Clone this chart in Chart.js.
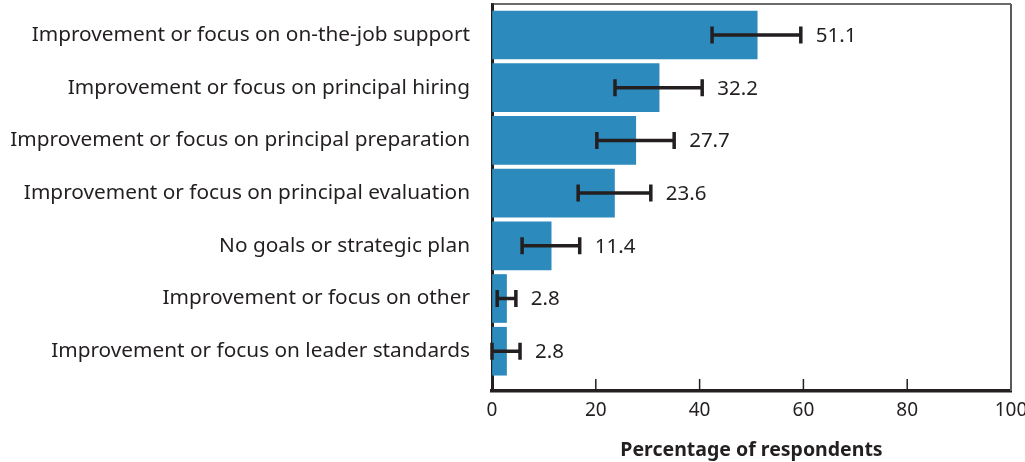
<!DOCTYPE html>
<html>
<head>
<meta charset="utf-8">
<script src="https://cdn.jsdelivr.net/npm/chart.js@4/dist/chart.umd.min.js"></script>
<style>
  html, body { margin: 0; padding: 0; background: #fff; }
  #wrap { width: 1025px; height: 462px; }
</style>
</head>
<body>
<div id="wrap"><canvas id="c" width="1025" height="462"></canvas></div>
<script>
const CATEGORIES = [
  'Improvement or focus on on-the-job support',
  'Improvement or focus on principal hiring',
  'Improvement or focus on principal preparation',
  'Improvement or focus on principal evaluation',
  'No goals or strategic plan',
  'Improvement or focus on other',
  'Improvement or focus on leader standards'
]
const VALUES   = [51.1, 32.2, 27.7, 23.6, 11.4, 2.8, 2.8]
const ERR_LOW  = [42.4, 23.7, 20.2, 16.6, 5.8, 1.0, 0.0]
const ERR_HIGH = [59.5, 40.5, 35.1, 30.6, 16.9, 4.6, 5.4]
const X_TICKS  = [0, 20, 40, 60, 80, 100]

const INK = '#231f20'
const BAR = '#2d8abd'
const FONT = "'Noto Sans', sans-serif"

// error bars + value labels + frame + inside tick marks
const extras = {
  id: 'extras',
  afterDatasetsDraw (chart) {
    const { ctx, chartArea: a, scales: { x } } = chart
    const meta = chart.getDatasetMeta(0)
    ctx.save()
    // top and right frame
    ctx.lineWidth = 1.5; ctx.strokeStyle = '#3a3a3a'
    ctx.beginPath(); ctx.moveTo(a.left, a.top); ctx.lineTo(a.right, a.top); ctx.stroke()
    ctx.lineWidth = 2; ctx.strokeStyle = '#5a5a5a'
    ctx.beginPath(); ctx.moveTo(a.right, a.top); ctx.lineTo(a.right, a.bottom); ctx.stroke()
    // inside ticks on x axis
    ctx.lineWidth = 1.5; ctx.strokeStyle = INK
    X_TICKS.slice(1, -1).forEach(v => {
      const px = x.getPixelForValue(v)
      ctx.beginPath(); ctx.moveTo(px, a.bottom); ctx.lineTo(px, a.bottom - 12); ctx.stroke()
    })
    // error bars
    ctx.lineWidth = 3.5; ctx.strokeStyle = INK
    ctx.fillStyle = INK; ctx.font = '20.5px ' + FONT
    ctx.textBaseline = 'middle'; ctx.textAlign = 'left'
    meta.data.forEach((bar, i) => {
      const y = bar.y
      const x1 = x.getPixelForValue(ERR_LOW[i])
      const x2 = x.getPixelForValue(ERR_HIGH[i])
      ctx.beginPath()
      ctx.moveTo(x1, y); ctx.lineTo(x2, y)
      ctx.moveTo(x1, y - 8.5); ctx.lineTo(x1, y + 8.5)
      ctx.moveTo(x2, y - 8.5); ctx.lineTo(x2, y + 8.5)
      ctx.stroke()
      ctx.fillText(VALUES[i].toFixed(1), x2 + 15, y + 1)
    })
    ctx.restore()
  }
}

new Chart(document.getElementById('c'), {
  type: 'bar',
  data: {
    datasets: [{
      data: VALUES.map((v, i) => ({ x: v, y: i })),
      backgroundColor: BAR,
      barThickness: 48
    }]
  },
  options: {
    indexAxis: 'y',
    responsive: false,
    animation: false,
    layout: { padding: { top: 4, right: 14, left: 0, bottom: 0 } },
    plugins: { legend: { display: false }, tooltip: { enabled: false } },
    scales: {
      x: {
        type: 'linear', min: 0, max: 100,
        afterBuildTicks: s => { s.ticks = X_TICKS.map(v => ({ value: v })) },
        afterFit: s => { s.height = 71; s.paddingLeft = 0; s.paddingRight = 0 },
        grid: { display: true, drawOnChartArea: false, drawTicks: false },
        border: { display: true, color: INK, width: 3.5 },
        ticks: { color: INK, font: { size: 19, family: FONT }, padding: 8, maxRotation: 0 },
        title: {
          display: true, text: 'Percentage of respondents', color: INK,
          font: { size: 19.5, weight: 'bold', family: FONT }, padding: { top: 4, bottom: 0 }
        }
      },
      y: {
        type: 'linear', reverse: true, min: -0.588, max: 6.755, offset: false,
        afterBuildTicks: s => { s.ticks = CATEGORIES.map((_, i) => ({ value: i })) },
        afterFit: s => { s.width = 492; s.paddingTop = 0; s.paddingBottom = 0 },
        grid: { display: true, drawOnChartArea: false, drawTicks: false, offset: false },
        border: { display: true, color: INK, width: 3 },
        ticks: {
          color: INK, font: { size: 20.8, family: FONT }, padding: 22,
          callback: v => CATEGORIES[v] ?? ''
        }
      }
    }
  },
  plugins: [extras]
})
</script>
</body>
</html>
